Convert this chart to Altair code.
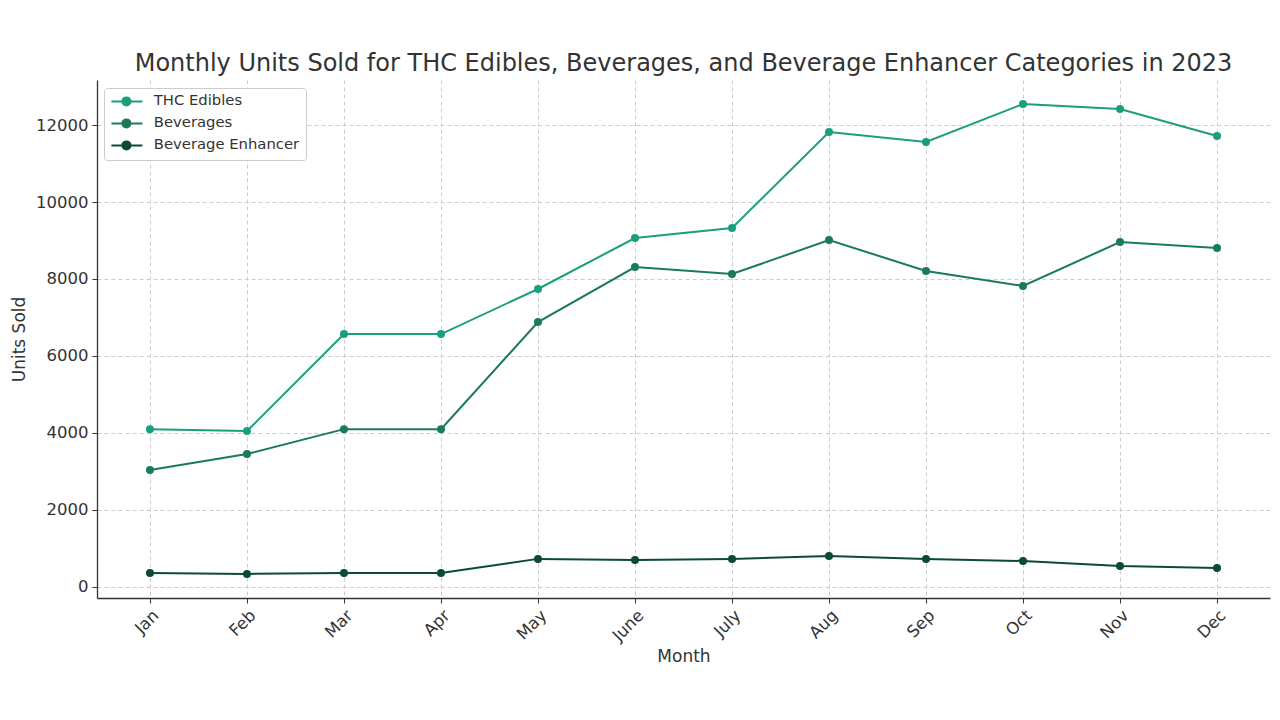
import altair as alt
import pandas as pd

months = ["Jan", "Feb", "Mar", "Apr", "May", "June", "July", "Aug", "Sep", "Oct", "Nov", "Dec"]
thc_edibles = [4100, 4050, 6570, 6570, 7740, 9065, 9325, 11820, 11560, 12545, 12415, 11715]
beverages = [3040, 3455, 4100, 4100, 6880, 8310, 8130, 9010, 8210, 7820, 8960, 8805]
beverage_enhancer = [365, 340, 365, 365, 730, 700, 730, 805, 730, 675, 545, 495]

series_names = ["THC Edibles", "Beverages", "Beverage Enhancer"]
series_colors = ["#1b9e7e", "#1a7a5e", "#0b4a37"]

rows = []
for name, vals in zip(series_names, [thc_edibles, beverages, beverage_enhancer]):
    for m, v in zip(months, vals):
        rows.append({"Month": m, "Units": v, "Series": name})
df = pd.DataFrame(rows)

font = "DejaVu Sans"

x = alt.X("Month:N", sort=months, scale=alt.Scale(type="point", padding=0.546),
          axis=alt.Axis(title="Month", labelAngle=-45, labelFontSize=16.5, titleFontSize=17,
                        titleFontWeight="normal",
                        labelColor="#333", titleColor="#333", tickColor="#333", domainColor="#333",
                        domainWidth=1.3, tickSize=5, labelPadding=4, titlePadding=4,
                        grid=True, gridDash=[4, 3], gridColor="#cccccc",
                        labelBaseline="top", labelAlign="right"))
y = alt.Y("Units:Q", scale=alt.Scale(domain=[-286, 13169], nice=False, zero=False),
          axis=alt.Axis(title="Units Sold", values=list(range(0, 12001, 2000)), labelFontSize=16.5,
                        titleFontSize=17, titleFontWeight="normal",
                        labelColor="#333", titleColor="#333", tickColor="#333",
                        domainColor="#333", domainWidth=1.3, tickSize=5, labelPadding=4, titlePadding=7,
                        grid=True, gridDash=[4, 3], gridColor="#cccccc", format="d"))
color = alt.Color("Series:N", sort=series_names,
                  scale=alt.Scale(domain=series_names, range=series_colors),
                  legend=alt.Legend(title=None, orient="none", legendX=7, legendY=8,
                                    symbolType="M-1,0L4.17,0M0.83,0A0.67,0.67,0,1,0,2.17,0A0.67,0.67,0,1,0,0.83,0Z",
                                    symbolSize=144, symbolStrokeWidth=2, labelFontSize=14.8,
                                    labelColor="#333", rowPadding=5, padding=6,
                                    strokeColor="#cccccc", fillColor="white", cornerRadius=3,
                                    labelOffset=29))

lines = alt.Chart(df).mark_line(strokeWidth=2).encode(x=x, y=y, color=color)
points = alt.Chart(df).mark_point(filled=True, size=64, opacity=1).encode(x=x, y=y, color=color)

chart = alt.layer(lines, points).properties(
    width=1173, height=518,
    title=alt.TitleParams("Monthly Units Sold for THC Edibles, Beverages, and Beverage Enhancer Categories in 2023",
                          fontSize=24, font=font, color="#333", fontWeight="normal", offset=4),
    autosize=alt.AutoSizeParams(type="none"),
    padding={"left": 89, "top": 72, "right": 2, "bottom": 110},
).configure(font=font).configure_view(stroke=None)

chart.save("out.html", embed_options={"renderer": "svg", "actions": False})
